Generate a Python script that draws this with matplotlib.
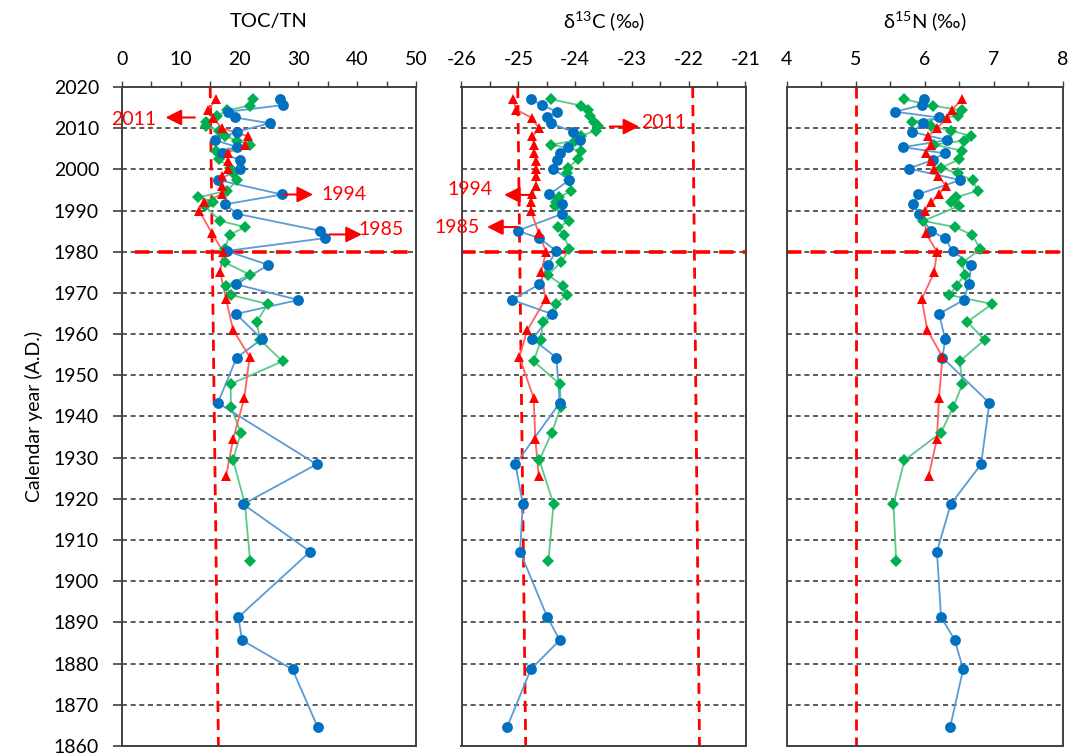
import matplotlib
matplotlib.use('Agg')
import matplotlib.pyplot as plt

plt.rcParams['font.family'] = ['Lato', 'DejaVu Sans']
plt.rcParams['mathtext.default'] = 'regular'
plt.rcParams['axes.unicode_minus'] = False

# ---- data --------------------------------------------------------------------
blue_year = [2017.0, 2015.6, 2014.0, 2012.6, 2011.2, 2009.1, 2007.1, 2005.4, 2003.9,
             2002.3, 2000.2, 1997.4, 1993.9, 1991.5, 1989.2, 1985.1, 1983.3, 1980.2,
             1976.8, 1972.1, 1968.3, 1964.9, 1958.8, 1954.3, 1943.3, 1928.4, 1918.7,
             1907.2, 1891.3, 1885.7, 1878.6, 1864.5]
blue_cn = [26.9, 27.3, 18.1, 19.2, 25.1, 19.5, 15.8, 19.6, 17.0, 20.0, 20.0, 16.4,
           27.2, 17.5, 19.6, 33.6, 34.5, 17.8, 24.9, 19.4, 30.0, 19.4, 23.8, 19.5,
           16.3, 33.1, 20.6, 32.0, 19.8, 20.4, 29.0, 33.3]
blue_c13 = [-24.78, -24.58, -24.32, -24.50, -24.42, -24.04, -23.92, -24.13, -24.27,
            -24.32, -24.39, -24.10, -24.46, -24.23, -24.23, -25.01, -24.63, -24.33,
            -24.48, -24.63, -25.11, -24.41, -24.75, -24.33, -24.27, -25.05, -24.92,
            -24.97, -24.49, -24.27, -24.78, -25.20]
blue_n15 = [5.99, 5.96, 5.57, 6.21, 5.98, 5.82, 6.33, 5.69, 6.29, 6.12, 5.77, 6.52,
            5.90, 5.84, 5.92, 6.09, 6.29, 6.41, 6.68, 6.64, 6.57, 6.21, 6.30, 6.26,
            6.94, 6.82, 6.38, 6.18, 6.24, 6.44, 6.56, 6.37]

green_year = [2017.0, 2015.5, 2014.3, 2013.0, 2011.6, 2010.5, 2009.4, 2008.1, 2007.0,
              2006.0, 2004.5, 2002.4, 2000.4, 1999.0, 1997.3, 1994.8, 1993.2, 1992.2,
              1991.1, 1987.5, 1986.0, 1984.1, 1980.6, 1977.4, 1974.4, 1971.8, 1969.5,
              1967.3, 1963.0, 1958.6, 1953.4, 1947.9, 1942.4, 1936.1, 1929.4, 1918.8,
              1904.8]
green_cn = [22.3, 21.8, 17.8, 16.2, 14.3, 14.3, 16.5, 17.5, 19.5, 21.8, 16.0, 16.5,
            18.4, 18.9, 19.6, 17.8, 13.0, 15.5, 14.1, 16.7, 20.9, 18.3, 17.5, 17.5,
            21.8, 17.7, 18.5, 24.8, 22.9, 23.5, 27.3, 18.5, 18.5, 20.2, 18.9, 20.9,
            21.8]
green_c13 = [-24.42, -23.90, -23.77, -23.74, -23.66, -23.60, -23.64, -23.90, -24.00,
             -24.42, -23.89, -23.95, -24.13, -24.15, -24.10, -24.07, -24.28, -24.33,
             -24.36, -24.10, -24.30, -24.20, -24.10, -24.25, -24.48, -24.22, -24.15,
             -24.33, -24.57, -24.60, -24.73, -24.27, -24.25, -24.41, -24.63, -24.38,
             -24.47]
green_n15 = [5.71, 6.12, 6.54, 6.48, 5.82, 6.10, 6.38, 6.68, 6.57, 6.14, 6.55, 6.50,
             6.24, 6.48, 6.70, 6.77, 6.45, 6.39, 6.50, 5.98, 6.44, 6.69, 6.81, 6.55,
             6.58, 6.47, 6.36, 6.98, 6.62, 6.87, 6.51, 6.55, 6.42, 6.24, 5.71, 5.55,
             5.59]

red_year = [2017.0, 2014.5, 2012.5, 2010.0, 2008.0, 2006.0, 2004.0, 2002.0, 2000.0,
            1998.5, 1996.0, 1994.0, 1992.0, 1990.0, 1984.5, 1980.0, 1975.0, 1968.5,
            1961.0, 1954.5, 1944.5, 1934.5, 1925.5]
red_cn = [16.0, 14.7, 15.5, 17.0, 21.5, 21.0, 18.0, 18.0, 18.0, 17.0, 17.0, 17.0,
          14.0, 13.1, 15.3, 17.2, 16.7, 17.7, 18.9, 21.7, 20.8, 18.9, 17.7]
red_c13 = [-25.09, -25.04, -24.76, -24.64, -24.75, -24.72, -24.72, -24.69, -24.69,
           -24.68, -24.69, -24.76, -24.78, -24.78, -24.64, -24.51, -24.60, -24.52,
           -24.84, -24.98, -24.73, -24.70, -24.64]
red_n15 = [6.54, 6.40, 6.33, 6.18, 6.05, 6.10, 6.02, 6.10, 6.14, 6.20, 6.31, 6.21,
           6.10, 6.00, 6.02, 6.18, 6.14, 5.96, 6.04, 6.26, 6.21, 6.18, 6.06]

titles = ['TOC/TN', 'δ$^{13}$C (‰)', 'δ$^{15}$N (‰)']
xlims = [(0, 50), (-26, -21), (4, 8)]
major = [list(range(0, 51, 10)), list(range(-26, -20)), list(range(4, 9))]
minor = [[x * 5 for x in range(11)], [-26 + 0.5 * i for i in range(11)],
         [4 + 0.5 * i for i in range(9)]]
# slanted reference lines (top value, bottom value)
refs = [[(15.0, 16.4)], [(-25.01, -24.87), (-21.93, -21.81)], [(5.0, 5.0)]]
hline_start = [2.2, -26, 4]

BLUE, BLUE_L = '#0070C0', '#5B9BD5'
GREEN, GREEN_L = '#00B050', '#5CC98A'
RED, RED_L = '#FF0000', '#FF6060'
FRAME = '#404040'

fig = plt.figure(figsize=(10.7, 7.54), dpi=100)
rects = [(122, 294), (461.5, 284), (786.5, 276)]
axes = []
for (l, w) in rects:
    axes.append(fig.add_axes([l / 1070, 1 - 746 / 754, w / 1070, 659 / 754]))

series = [
    (green_year, [green_cn, green_c13, green_n15], GREEN, GREEN_L, 'D', 6.3),
    (blue_year, [blue_cn, blue_c13, blue_n15], BLUE, BLUE_L, 'o', 7.8),
    (red_year, [red_cn, red_c13, red_n15], RED, RED_L, '^', 7.8),
]

for i, ax in enumerate(axes):
    ax.set_xlim(*xlims[i])
    ax.set_ylim(1860, 2020)
    for yr in range(1870, 2020, 10):
        ax.axhline(yr, color='#404040', lw=1.2, ls=(0, (3, 2.2)), zorder=1)
    for top, bot in refs[i]:
        ax.plot([top, bot], [2020, 1860], color=RED, lw=2.0, ls=(0, (4, 2.5)),
                zorder=2, clip_on=False)
    ax.plot([hline_start[i], xlims[i][1]], [1980, 1980], color=RED, lw=2.6,
            ls=(0, (4, 2.5)), zorder=2)
    for yrs, vals, mc, lc, mk, ms in series:
        ax.plot(vals[i], yrs, color=lc, lw=1.3, zorder=3)
        ax.plot(vals[i], yrs, ls='none', marker=mk, ms=ms, color=mc,
                markeredgewidth=0, zorder=4)
    ax.xaxis.tick_top()
    ax.set_xticks(major[i])
    ax.set_xticks(minor[i], minor=True)
    ax.tick_params(axis='x', which='both', direction='out', length=4.5, width=1.0,
                   color=FRAME, labelsize=14, pad=9)
    for s in ax.spines.values():
        s.set_color(FRAME)
        s.set_linewidth(1.4)
    ax.text(0.5, 1.1, titles[i], transform=ax.transAxes, ha='center', va='center',
            fontsize=14.5)
    if i == 0:
        ax.set_yticks(list(range(1860, 2021, 10)))
        ax.tick_params(axis='y', direction='out', length=6.5, width=1.2, color=FRAME,
                       labelsize=14, pad=10)
        ax.set_ylabel('Calendar year (A.D.)', fontsize=14, labelpad=8)
    else:
        ax.set_yticks([])

ARROW = dict(arrowstyle='-|>', color=RED, lw=1.5, mutation_scale=24,
             shrinkA=0, shrinkB=0)
a1, a2 = axes[0], axes[1]
a1.annotate('', xy=(7.4, 2012.6), xytext=(12.4, 2012.6), arrowprops=ARROW, zorder=5)
a1.text(-1.8, 2012.2, '2011', color=RED, fontsize=14, ha='left', va='center',
        clip_on=False)
a1.annotate('', xy=(32.5, 1993.9), xytext=(27.5, 1993.9), arrowprops=ARROW, zorder=5)
a1.text(34.0, 1993.9, '1994', color=RED, fontsize=14, ha='left', va='center')
a1.annotate('', xy=(40.8, 1984.2), xytext=(35.3, 1984.2), arrowprops=ARROW, zorder=5)
a1.text(40.3, 1985.3, '1985', color=RED, fontsize=14, ha='left', va='center')

a2.annotate('', xy=(-22.87, 2010.4), xytext=(-23.39, 2010.4), arrowprops=ARROW, zorder=5)
a2.text(-22.84, 2011.3, '2011', color=RED, fontsize=14, ha='left', va='center')
a2.annotate('', xy=(-25.25, 1993.8), xytext=(-24.75, 1993.8), arrowprops=ARROW, zorder=5)
a2.text(-25.45, 1995.0, '1994', color=RED, fontsize=14, ha='right', va='center')
a2.annotate('', xy=(-25.55, 1986.0), xytext=(-25.01, 1986.0), arrowprops=ARROW, zorder=5,
            annotation_clip=False)
a2.text(-25.68, 1985.8, '1985', color=RED, fontsize=14, ha='right', va='center',
        clip_on=False)

fig.savefig('out.png', dpi=100)
